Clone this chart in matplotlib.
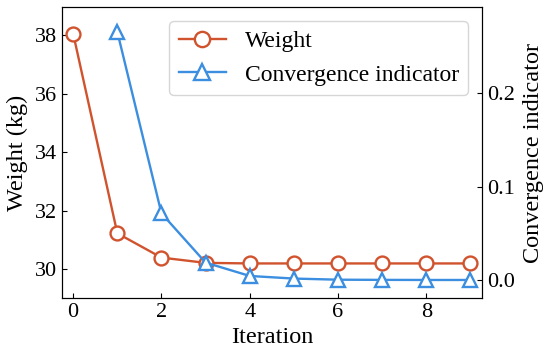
import numpy as np
import matplotlib.pyplot as plt

plt.rcParams['font.family'] = ['Liberation Serif', 'DejaVu Serif']
plt.rcParams['font.size'] = 14

# datos
iteracion = np.arange(10)
peso = [38.05, 31.23, 30.40, 30.22, 30.20, 30.20, 30.20, 30.20, 30.20, 30.20]
iter_conv = np.arange(1, 10)
convergencia = [0.266, 0.0714, 0.0186, 0.0043, 0.0015, 0.0003, 0.0001, 0.0, 0.0]

color_peso = '#d0532e'
color_conv = '#3b8ee0'

fig, ax = plt.subplots(figsize=(5.5, 3.56), dpi=100)
l1, = ax.plot(iteracion, peso, '-o', color=color_peso, lw=1.7, ms=10,
              mfc='white', mew=1.7, label='Weight')
ax.set_xlim(-0.25, 9.27)
ax.set_ylim(29.02, 38.96)
ax.set_xticks([0, 2, 4, 6, 8])
ax.set_yticks([30, 32, 34, 36, 38])
ax.set_xlabel('Iteration', fontsize=17.5, labelpad=4)
ax.set_ylabel('Weight (kg)', fontsize=17.5, labelpad=5)
ax.tick_params(direction='in', labelsize=16)

ax2 = ax.twinx()
l2, = ax2.plot(iter_conv, convergencia, '-^', color=color_conv, lw=1.7, ms=10,
               mfc='white', mew=1.7, label='Convergence indicator')
ax2.set_ylim(-0.0193, 0.2925)
ax2.set_yticks([0.0, 0.1, 0.2])
ax2.set_ylabel('Convergence indicator', fontsize=17.5, labelpad=6)
ax2.tick_params(direction='in', labelsize=16)

ax.legend([l1, l2], ['Weight', 'Convergence indicator'], loc='upper right',
          fontsize=17, markerscale=1.1, borderaxespad=0.6)

fig.subplots_adjust(left=0.113, right=0.877, top=0.98, bottom=0.163)
fig.savefig('out.png')
